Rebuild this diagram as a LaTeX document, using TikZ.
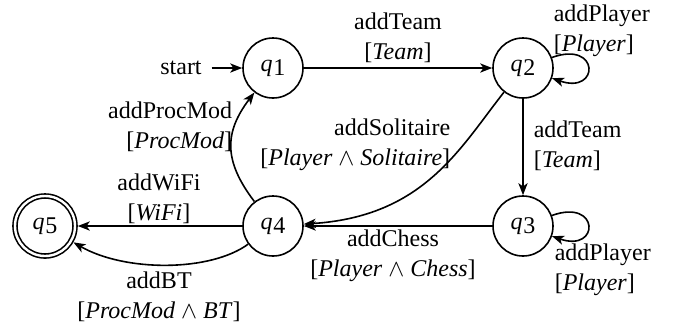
\documentclass[tikz,border=0pt]{standalone}
\usepackage{fontspec}
\setmainfont{Liberation Serif}
\usetikzlibrary{arrows.meta}

\newcommand{\stq}[1]{\textit{q}\kern0.3pt\raisebox{-0.4ex}{#1}}
\newcommand{\grd}[1]{[\textit{#1}]}

\tikzset{every picture/.style={line width=0.8pt}}
\tikzset{
  state/.style={draw, circle, minimum size=30pt, inner sep=0pt, font=\fontsize{12}{15}\selectfont},
  final/.style={state, double, double distance=1.2pt, outer sep=1.4pt},
  trans/.style={-{Stealth[length=6pt,width=4.6pt,inset=1.6pt]}},
  lbl/.style={inner sep=0pt, font=\fontsize{12}{15}\selectfont}
}

\begin{document}
\begin{tikzpicture}[x=0.5pt,y=0.5pt,yscale=-1,xscale=1]
\useasboundingbox (0,0) rectangle (681,329);

%Shape: States
\node[state] (q1) at (273,68) {\stq{1}};
\node[state] (q2) at (523,68) {\stq{2}};
\node[state] (q3) at (523,226) {\stq{3}};
\node[state] (q4) at (273,226) {\stq{4}};
\node[final] (q5) at (45,226) {\stq{5}};

% Text Node
\node[lbl, outer sep=5pt] (start) at (181,68) {start};
% Text Node
\node[lbl, align=center] (lTeamA) at (398,38) {addTeam\\\grd{Team}};
% Text Node
\node[lbl, align=left, anchor=west] (lPlayerA) at (553,31) {addPlayer\\\grd{Player}};
% Text Node
\node[lbl, align=left, anchor=west] (lTeamB) at (533,146) {addTeam\\\grd{Team}};
% Text Node
\node[lbl, align=right, anchor=east] (lSolit) at (451,145) {addSolitaire\\{[}\textit{Player} $\wedge$ \textit{Solitaire}{]}};
% Text Node
\node[lbl, align=center] (lChess) at (393,256) {addChess\\{[}\textit{Player} $\wedge$ \textit{Chess}{]}};
% Text Node
\node[lbl, align=left, anchor=west] (lPlayerB) at (554,270) {addPlayer\\\grd{Player}};
% Text Node
\node[lbl, align=right, anchor=east] (lProc) at (233,127) {addProcMod\\\grd{ProcMod}};
% Text Node
\node[lbl, align=center] (lWiFi) at (159,199) {addWiFi\\\grd{WiFi}};
% Text Node
\node[lbl, align=center] (lBT) at (159,297) {addBT\\{[}\textit{ProcMod} $\wedge$ \textit{BT}{]}};

%Straight Lines
\draw[trans] (start) -- (q1);
\draw[trans] (q1) -- (q2);
\draw[trans] (q2) -- (q3);
\draw[trans] (q3) -- (q4);
\draw[trans] (q4) -- (q5);

%Curve Lines
\draw[trans] (q2) to[out=115, in=-6, looseness=1.1] (q4);
\draw[trans] (q4) to[out=-112, in=112, looseness=1.2] (q1);
\draw[trans] (q4) .. controls (210,272) and (125,272) .. (q5);

%Loops
\draw[trans] (q2) .. controls (600,40) and (600,95) .. (q2);
\draw[trans] (q3) .. controls (600,198) and (600,253) .. (q3);

\end{tikzpicture}
\end{document}
